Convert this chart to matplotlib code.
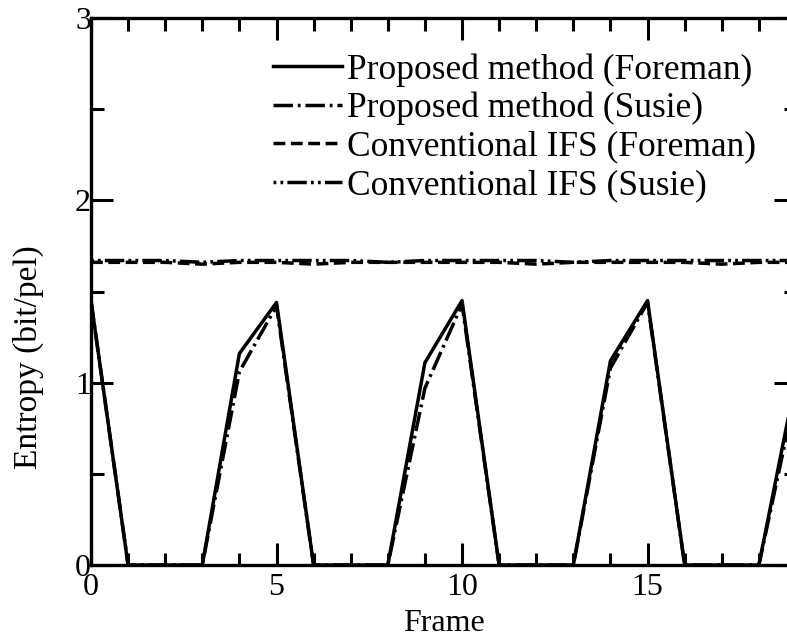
import matplotlib
matplotlib.use("Agg")
import matplotlib.pyplot as plt
from matplotlib.ticker import MultipleLocator

plt.rcParams['font.family'] = ['Liberation Serif', 'DejaVu Serif']
plt.rcParams['lines.scale_dashes'] = False

# entropy per frame (bit/pel)
frames = list(range(20))
prop_foreman = [1.45, 0, 0, 0, 1.16, 1.44, 0, 0, 0, 1.11,
                1.45, 0, 0, 0, 1.12, 1.45, 0, 0, 0, 1.02]
prop_susie = [1.45, 0, 0, 0, 1.06, 1.42, 0, 0, 0, 0.97,
              1.43, 0, 0, 0, 1.08, 1.44, 0, 0, 0, 0.95]
conv_foreman = [1.66, 1.66, 1.66, 1.65, 1.66, 1.66, 1.65, 1.66, 1.66, 1.66,
                1.66, 1.66, 1.65, 1.66, 1.66, 1.66, 1.66, 1.65, 1.66, 1.66]
conv_susie = [1.67, 1.67, 1.67, 1.66, 1.67, 1.67, 1.67, 1.67, 1.66, 1.67,
              1.67, 1.67, 1.67, 1.66, 1.67, 1.67, 1.67, 1.67, 1.67, 1.67]
labels = ['Proposed method (Foreman)', 'Proposed method (Susie)',
          'Conventional IFS (Foreman)', 'Conventional IFS (Susie)']

fig = plt.figure(figsize=(7.87, 6.38), dpi=100)
ax = fig.add_axes([0.1156, 0.1144, 0.8958, 0.8574])

lw = 2.5
ax.plot(frames, prop_foreman, color='k', lw=lw, ls='-', label=labels[0])
ax.plot(frames, prop_susie, color='k', lw=lw, ls=(0, (14, 3.5, 2, 3.5)), label=labels[1])
ax.plot(frames, conv_foreman, color='k', lw=lw, ls=(0, (8.5, 4)), label=labels[2])
ax.plot(frames, conv_susie, color='k', lw=lw, ls=(0, (2, 3, 2, 3, 14, 3)), label=labels[3])

ax.set_xlim(0, 19)
ax.set_ylim(0, 3)
ax.xaxis.set_major_locator(MultipleLocator(5))
ax.xaxis.set_minor_locator(MultipleLocator(1))
ax.yaxis.set_major_locator(MultipleLocator(1))
ax.yaxis.set_minor_locator(MultipleLocator(0.5))

for s in ax.spines.values():
    s.set_linewidth(2.4)
ax.tick_params(which='both', direction='in', top=True, right=True, width=2.2, labelsize=23)
ax.tick_params(which='major', length=16)
ax.tick_params(which='minor', length=9)
ax.tick_params(axis='x', pad=6)
ax.tick_params(axis='y', pad=0)

ax.set_xlabel('Frame', fontsize=23, labelpad=5)
ax.set_ylabel('Entropy (bit/pel)', fontsize=24)
ax.yaxis.set_label_coords(-0.066, 0.38)

ax.legend(loc='upper left', bbox_to_anchor=(0.258, 0.936), frameon=False,
          fontsize=25.5, handlelength=1.95, handletextpad=0.15,
          labelspacing=0.15, borderpad=0, borderaxespad=0)

fig.savefig('out.png', dpi=100)
